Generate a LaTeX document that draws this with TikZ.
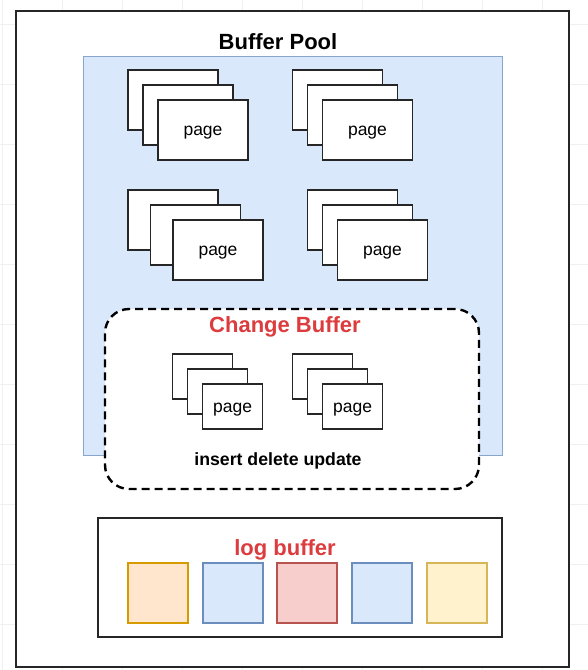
\documentclass[tikz,border=0pt]{standalone}
\usepackage{fontspec}
\setmainfont{Liberation Sans}
\usepackage{tikz}
\usetikzlibrary{positioning,backgrounds}

\definecolor{poolfill}{HTML}{DAE8FC}
\definecolor{poolline}{HTML}{6C8EBF}
\definecolor{orfill}{HTML}{FFE6CC}
\definecolor{orline}{HTML}{D79B00}
\definecolor{rdfill}{HTML}{F8CECC}
\definecolor{rdline}{HTML}{B85450}
\definecolor{ylfill}{HTML}{FFF2CC}
\definecolor{ylline}{HTML}{D6B656}
\definecolor{titlered}{HTML}{DD3C3E}

\begin{document}
\begin{tikzpicture}[
    x=1pt, y=-1pt,
    font=\fontsize{17.5}{20}\selectfont,
    frame/.style={draw=black!85, line width=1.5pt, fill=white, inner sep=0pt},
    pool/.style={draw=poolline!80, line width=1pt, fill=poolfill, inner sep=0pt},
    pg/.style={draw=black!85, line width=1.3pt, fill=white, inner sep=0pt, minimum width=90pt, minimum height=60pt, text height=11pt, text depth=0pt},
    smallpg/.style={pg, minimum width=60pt, minimum height=45pt},
    chg/.style={draw=black, line width=2.4pt, dash pattern=on 8pt off 5pt, rounded corners=24pt, fill=white, inner sep=0pt},
    cell/.style={line width=1.2pt, inner sep=0pt, minimum size=60pt},
    ttl/.style={font=\fontsize{22}{26}\selectfont\bfseries, anchor=base},
  ]
    \useasboundingbox (0,0) rectangle (588,670);

    % faint grid of the canvas
    \foreach \gx in {2,62,...,590} \draw[black!6, line width=0.8pt] (\gx,0) -- (\gx,670);
    \foreach \gy in {24,84,...,670} \draw[black!6, line width=0.8pt] (0,\gy) -- (588,\gy);

    % Outer box
    \node[frame, minimum width=553pt, minimum height=656pt] (outer) at (292.5,339) {};

    % Buffer pool
    \node[pool, minimum width=419pt, minimum height=399pt] (pool) at (292.5,255.5) {};
    \node[ttl] (pooltitle) at (278,49) {Buffer Pool};

    % Page stacks in the pool
    \foreach \cx/\cy/\dx/\n in {173/100/15/a, 337.5/100/15/b, 173/220/22.5/c, 352.5/220/15/d} {
      \node[pg] (\n1) at (\cx,\cy) {};
      \node[pg] (\n2) at ([shift={(\dx,15)}]\n1) {};
      \node[pg] (\n3) at ([shift={(\dx,15)}]\n2) {page};
    }

    % Change buffer
    \node[chg, minimum width=374pt, minimum height=180pt] (chbuf) at (292,399) {};
    \node[ttl, text=titlered] (chtitle) at (285,332) {Change Buffer};
    \foreach \cx/\n in {202.7/e, 322.7/f} {
      \node[smallpg] (\n1) at (\cx,376.5) {};
      \node[smallpg] (\n2) at ([shift={(15,15)}]\n1) {};
      \node[smallpg] (\n3) at ([shift={(15,15)}]\n2) {page};
    }
    \node[font=\fontsize{17.7}{20}\selectfont\bfseries, anchor=base] (ops) at (278,465.5) {insert delete update};

    % Log buffer
    \node[frame, minimum width=404pt, minimum height=119pt] (logbuf) at (300,577.5) {};
    \node[ttl, text=titlered] (logtitle) at (285,555) {log buffer};
    \foreach \lx/\fc/\lc/\n in {158/orfill/orline/1, 233/poolfill/poolline/2, 307/rdfill/rdline/3, 382/poolfill/poolline/4, 457/ylfill/ylline/5}
      \node[cell, fill=\fc, draw=\lc] (log\n) at (\lx,593) {};
\end{tikzpicture}
\end{document}
